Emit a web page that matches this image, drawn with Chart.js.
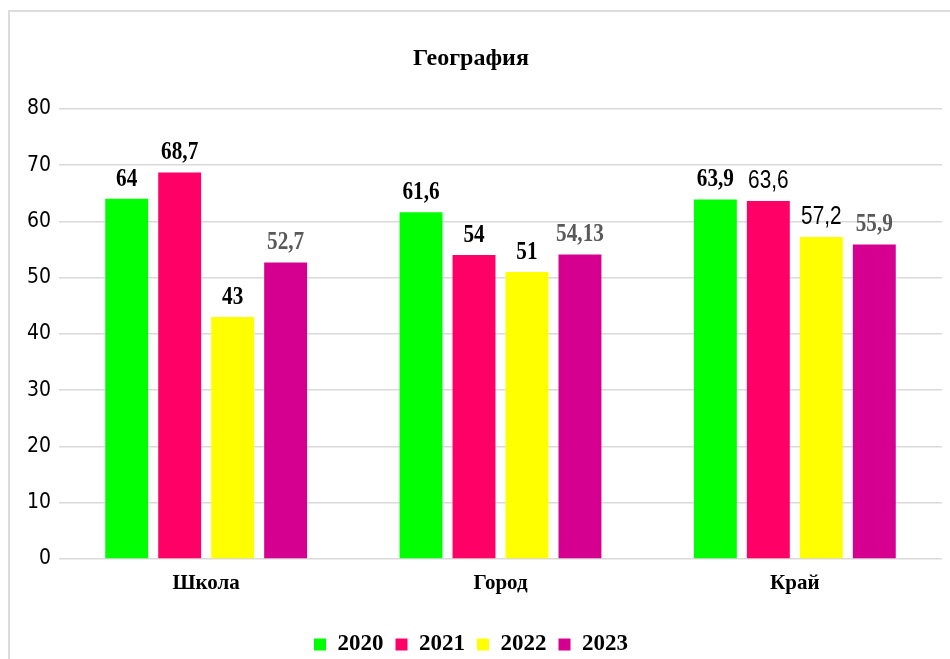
<!DOCTYPE html>
<html>
<head>
<meta charset="utf-8">
<script src="https://cdn.jsdelivr.net/npm/chart.js@4/dist/chart.umd.min.js"></script>
<style>
    body { margin: 0; background: #fff; overflow: hidden; }
    #ramka { position: absolute; left: 8px; top: 10px; width: 1000px; height: 700px; border: 2px solid #dcdcdc; }
    #grafico { position: absolute; left: 0; top: 0; }
</style>
</head>
<body>
<div id="ramka"></div>
<canvas id="grafico" width="950" height="659"></canvas>
<script>
const categorias = ["Школа", "Город", "Край"];
const anios = ["2020", "2021", "2022", "2023"];
const valores2020 = [64, 61.6, 63.9];
const valores2021 = [68.7, 54, 63.6];
const valores2022 = [43, 51, 57.2];
const valores2023 = [52.7, 54.13, 55.9];
const colores = ["#00ff00", "#ff0066", "#ffff00", "#d5008f"];

const serifStack = "'Liberation Serif', 'DejaVu Serif', serif";
const narrowStack = "'Liberation Sans Narrow', 'DejaVu Sans Condensed', 'Liberation Sans', sans-serif";

// estilo de cada etiqueta: negrita serif, gris para 2023, sans fina para dos puntos del "Край"
function estiloEtiqueta(ds, idx) {
    if (ds === 3) return { font: "bold 25px " + serifStack, color: "#595959", squeeze: 0.85 };
    if ((ds === 1 || ds === 2) && idx === 2) return { font: "26px 'Liberation Sans', sans-serif", color: "#000", squeeze: 0.8 };
    return { font: "bold 25px " + serifStack, color: "#000", squeeze: 0.85 };
}

const etiquetasValor = {
    id: "etiquetasValor",
    afterDatasetsDraw(chart) {
        const ctx = chart.ctx;
        chart.data.datasets.forEach((ds, i) => {
            chart.getDatasetMeta(i).data.forEach((bar, j) => {
                const st = estiloEtiqueta(i, j);
                const texto = String(ds.data[j]).replace(".", ",");
                ctx.save();
                ctx.translate(bar.x, bar.y - 13);
                ctx.scale(st.squeeze, 1);
                ctx.font = st.font;
                ctx.fillStyle = st.color;
                ctx.textAlign = "center";
                ctx.textBaseline = "alphabetic";
                ctx.fillText(texto, 0, 0);
                ctx.restore();
            });
        });
    }
};

const series = [valores2020, valores2021, valores2022, valores2023];

new Chart(document.getElementById("grafico"), {
    type: "bar",
    data: {
        labels: categorias,
        datasets: series.map((vals, i) => ({
            label: anios[i],
            data: vals,
            backgroundColor: colores[i],
            borderWidth: 0,
            barPercentage: 0.81,
            categoryPercentage: 0.72
        }))
    },
    options: {
        responsive: false,
        animation: false,
        layout: { padding: { left: 0, right: 8, top: 0, bottom: -7 } },
        plugins: {
            tooltip: { enabled: false },
            title: {
                display: true,
                text: "География",
                color: "#000",
                font: { family: serifStack, size: 24, weight: "bold" },
                padding: { top: 44, bottom: 36 }
            },
            legend: {
                position: "bottom",
                labels: {
                    color: "#000",
                    boxWidth: 12,
                    boxHeight: 12,
                    padding: 12,
                    font: { family: serifStack, size: 23, weight: "bold" }
                }
            }
        },
        scales: {
            y: {
                min: 0,
                max: 80,
                ticks: {
                    stepSize: 10,
                    color: "#000",
                    padding: 8,
                    font: { family: narrowStack, size: 21 }
                },
                grid: { color: "#d9d9d9", lineWidth: 1.5, drawTicks: false },
                border: { display: false },
                afterFit(scale) { scale.width = 59; }
            },
            x: {
                ticks: {
                    color: "#000",
                    padding: 4,
                    font: { family: serifStack, size: 21, weight: "bold" }
                },
                grid: { display: false },
                border: { display: false },
                afterFit(scale) { scale.height = 62; }
            }
        }
    },
    plugins: [etiquetasValor]
});
</script>
</body>
</html>
